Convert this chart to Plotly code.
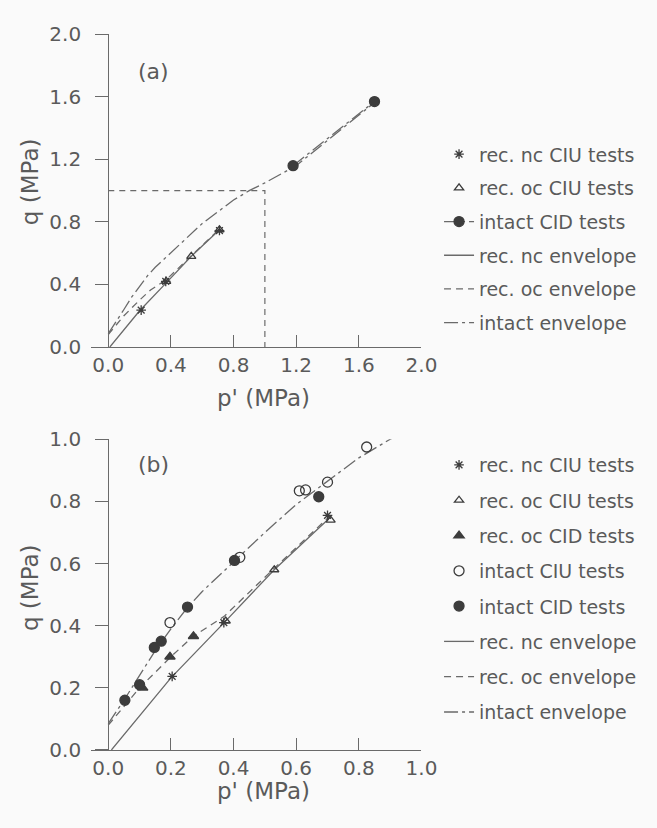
import plotly.graph_objects as go

W, H = 657, 828

# ---------------- data: panel (a) ----------------
a_nc_ciu_p = [0.21, 0.367, 0.71]
a_nc_ciu_q = [0.236, 0.42, 0.745]
a_oc_ciu_p = [0.37, 0.53, 0.71]
a_oc_ciu_q = [0.42, 0.58, 0.75]
a_int_cid_p = [1.18, 1.70]
a_int_cid_q = [1.16, 1.57]

# ---------------- data: panel (b) ----------------
b_nc_ciu_p = [0.204, 0.369, 0.70]
b_nc_ciu_q = [0.237, 0.41, 0.755]
b_oc_ciu_p = [0.375, 0.53, 0.71]
b_oc_ciu_q = [0.415, 0.58, 0.74]
b_oc_cid_p = [0.11, 0.197, 0.272]
b_oc_cid_q = [0.20, 0.30, 0.366]
b_int_ciu_p = [0.197, 0.42, 0.61, 0.63, 0.70, 0.825]
b_int_ciu_q = [0.41, 0.62, 0.834, 0.837, 0.862, 0.975]
b_int_cid_p = [0.053, 0.10, 0.147, 0.169, 0.253, 0.403, 0.672]
b_int_cid_q = [0.16, 0.21, 0.33, 0.35, 0.46, 0.61, 0.815]

# ---------------- envelopes (shared) ----------------
env_nc_p = [0.01, 0.2, 0.37, 0.53, 0.71]
env_nc_q = [0.0, 0.232, 0.41, 0.58, 0.75]
env_oc_p = [0.0, 0.1, 0.2, 0.27, 0.37, 0.53, 0.71]
env_oc_q = [0.08, 0.2, 0.3, 0.365, 0.43, 0.585, 0.755]
env_int_p = [0.0, 0.05, 0.1, 0.15, 0.2, 0.25, 0.3, 0.4, 0.5, 0.6, 0.7, 0.8, 0.9, 1.0, 1.2, 1.45, 1.72]
env_int_q = [0.085, 0.16, 0.24, 0.32, 0.39, 0.455, 0.51, 0.605, 0.70, 0.79, 0.865, 0.94, 1.0, 1.05, 1.16, 1.36, 1.58]

# ---------------- ticks ----------------
a_ticks = [0.0, 0.4, 0.8, 1.2, 1.6, 2.0]
a_ticktext = ["0.0", "0.4", "0.8", "1.2", "1.6", "2.0"]
b_ticks = [0.0, 0.2, 0.4, 0.6, 0.8, 1.0]
b_ticktext = ["0.0", "0.2", "0.4", "0.6", "0.8", "1.0"]

# zoom region of (a) shown in (b)
zoom_box_p = 1.0
zoom_box_q = 1.0

FONT = "DejaVu Sans"
TXT = "#5a5a5a"
LINE = "#6a6a6a"
MK = "#3c3c3c"

fig = go.Figure()

DASH = "7px,5px"
DASHDOT = "14px,4px,3px,4px"

def add(x, y, name, xa, ya, leg, rank, mode="markers", symbol=None, size=9, dash=None, lw=1.3):
    kw = {}
    if "markers" in mode:
        kw["marker"] = dict(symbol=symbol, size=size, color=MK,
                            line=dict(color=MK, width=1.3))
    if "lines" in mode:
        kw["line"] = dict(color=LINE, width=lw, dash=dash)
    fig.add_trace(go.Scatter(x=x, y=y, name=name, mode=mode, xaxis=xa, yaxis=ya,
                             legend=leg, legendgroup=leg + name, legendrank=rank,
                             cliponaxis=True, **kw))

# panel (a): lines first so markers sit on top
add(env_nc_p, env_nc_q, "rec. nc envelope", "x", "y", "legend", 4, mode="lines")
add(env_oc_p, env_oc_q, "rec. oc envelope", "x", "y", "legend", 5, mode="lines", dash=DASH)
add(env_int_p, env_int_q, "intact envelope", "x", "y", "legend", 6, mode="lines", dash=DASHDOT)
add(a_nc_ciu_p, a_nc_ciu_q, "rec. nc CIU tests", "x", "y", "legend", 1, symbol="asterisk-open", size=8)
add(a_oc_ciu_p, a_oc_ciu_q, "rec. oc CIU tests", "x", "y", "legend", 2, symbol="triangle-up-open", size=8)
add(a_int_cid_p, a_int_cid_q, "intact CID tests", "x", "y", "legend", 3, mode="lines+markers",
    symbol="circle", size=10, dash=DASHDOT)

# panel (b)
add(env_nc_p, env_nc_q, "rec. nc envelope", "x2", "y2", "legend2", 6, mode="lines")
add(env_oc_p, env_oc_q, "rec. oc envelope", "x2", "y2", "legend2", 7, mode="lines", dash=DASH)
add(env_int_p, env_int_q, "intact envelope", "x2", "y2", "legend2", 8, mode="lines", dash=DASHDOT)
add(b_nc_ciu_p, b_nc_ciu_q, "rec. nc CIU tests", "x2", "y2", "legend2", 1, symbol="asterisk-open", size=8)
add(b_oc_ciu_p, b_oc_ciu_q, "rec. oc CIU tests", "x2", "y2", "legend2", 2, symbol="triangle-up-open", size=8)
add(b_oc_cid_p, b_oc_cid_q, "rec. oc CID tests", "x2", "y2", "legend2", 3, symbol="triangle-up", size=9)
add(b_int_ciu_p, b_int_ciu_q, "intact CIU tests", "x2", "y2", "legend2", 4, symbol="circle-open", size=10)
add(b_int_cid_p, b_int_cid_q, "intact CID tests", "x2", "y2", "legend2", 5, symbol="circle", size=10)

tickfont = dict(family=FONT, size=20, color=TXT)
TITLE_SIZE = 23

def xax(rng, dom, anchor, tv, tt):
    return dict(range=rng, domain=dom, anchor=anchor, tickvals=tv, ticktext=tt,
                ticks="inside", ticklen=12, tickcolor=LINE, tickwidth=1.2,
                showline=True, linecolor=LINE, linewidth=1.3, showgrid=False, zeroline=False,
                tickfont=tickfont)

def yax(rng, dom, tv, tt):
    return dict(range=rng, domain=dom, anchor="free", position=111 / W, tickvals=tv, ticktext=tt,
                ticks="outside", ticklen=13, tickcolor=LINE, tickwidth=1.2,
                showline=True, linecolor=LINE, linewidth=1.3, showgrid=False, zeroline=False,
                tickfont=tickfont, ticklabelstandoff=10)

def title_ann(text, xpx, ypx, angle=0):
    return dict(text=text, x=xpx / W, y=1 - ypx / H, xref="paper", yref="paper",
                xanchor="center", yanchor="middle", showarrow=False, textangle=angle,
                font=dict(family=FONT, size=TITLE_SIZE, color=TXT))

xdom = [93 / W, 432 / W]
fig.update_layout(
    width=W, height=H,
    margin=dict(l=0, r=0, t=0, b=0),
    paper_bgcolor="#fafafa", plot_bgcolor="#fafafa",
    xaxis=xax([-0.112, 2.0], xdom, "y", a_ticks, a_ticktext),
    yaxis=yax([0, 2.0], [1 - 345 / H, 1 - 23 / H], a_ticks, a_ticktext),
    xaxis2=xax([-0.056, 1.0], xdom, "y2", b_ticks, b_ticktext),
    yaxis2=yax([0, 1.0], [1 - 760 / H, 1 - 440 / H], b_ticks, b_ticktext),
    legend=dict(x=450 / W, xanchor="left", y=1 - 127 / H, yanchor="top",
                font=dict(family=FONT, size=19, color=TXT), bgcolor="rgba(0,0,0,0)",
                traceorder="grouped", tracegroupgap=6),
    legend2=dict(x=450 / W, xanchor="left", y=1 - 447 / H, yanchor="top",
                 font=dict(family=FONT, size=19, color=TXT), bgcolor="rgba(0,0,0,0)",
                 traceorder="grouped", tracegroupgap=7.6),
    annotations=[
        dict(text="(a)", x=0.287, y=1.76, xref="x", yref="y", showarrow=False,
             font=dict(family=FONT, size=22, color=TXT)),
        dict(text="(b)", x=0.144, y=0.92, xref="x2", yref="y2", showarrow=False,
             font=dict(family=FONT, size=22, color=TXT)),
        title_ann("p' (MPa)", 270, 398),
        title_ann("p' (MPa)", 270, 802),
        title_ann("q (MPa)", 31, 175, -90),
        title_ann("q (MPa)", 31, 593, -90),
    ],
    shapes=[
        dict(type="path", xref="x", yref="y",
             path=f"M 0,{zoom_box_q} L {zoom_box_p},{zoom_box_q} L {zoom_box_p},0",
             line=dict(color=LINE, width=1.2, dash="6px,5px")),
    ],
    showlegend=True,
)

fig.write_html("out.html")
